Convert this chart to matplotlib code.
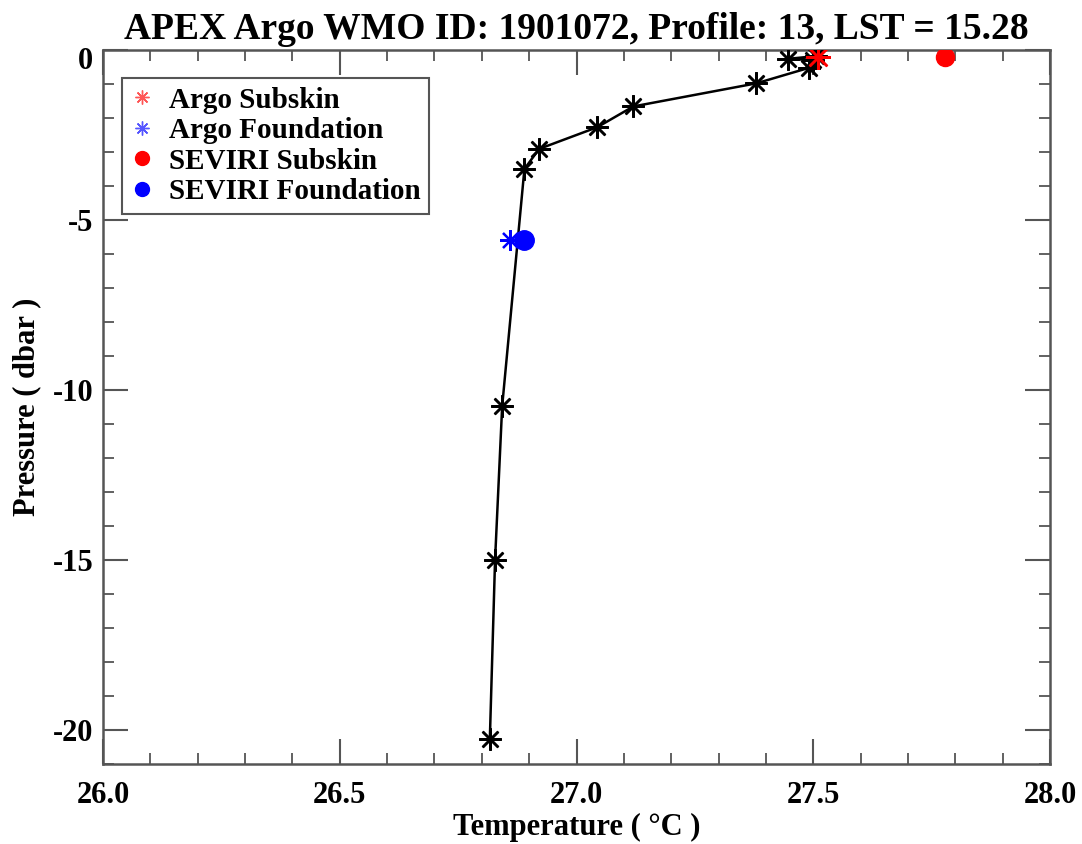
import matplotlib
matplotlib.use("Agg")
import matplotlib.pyplot as plt
import matplotlib.transforms as mtransforms
from matplotlib.ticker import MultipleLocator, FormatStrFormatter

plt.rcParams['font.family'] = ['Liberation Serif', 'DejaVu Serif']
plt.rcParams['font.weight'] = 'bold'
plt.rcParams['axes.unicode_minus'] = False

# Argo profile (temperature in degC, pressure in dbar, negative downward)
argo_temp = [27.505, 27.447, 27.500, 27.492, 27.380, 27.120, 27.044, 26.921, 26.890, 26.843, 26.828, 26.817]
argo_pres = [-0.18, -0.26, -0.30, -0.52, -0.98, -1.66, -2.27, -2.91, -3.50, -10.48, -15.00, -20.26]

argo_subskin_temp = [27.511]
argo_subskin_pres = [-0.20]
argo_found_temp = [26.860]
argo_found_pres = [-5.58]
seviri_subskin_temp = [27.778]
seviri_subskin_pres = [-0.20]
seviri_found_temp = [26.890]
seviri_found_pres = [-5.58]

title = "APEX Argo WMO ID: 1901072, Profile: 13, LST = 15.28"

fig = plt.figure(figsize=(10.82, 8.44), dpi=100)
ax = fig.add_axes([103/1082, 1-764/844, (1050-103)/1082, (764-50)/844])

ast = (8, 2, 0)
edge = '#555555'

ax.plot(argo_temp, argo_pres, color='black', lw=1.8, marker=ast, ms=16,
        mew=1.8, mec='black', zorder=3)
ax.plot(argo_subskin_temp, argo_subskin_pres, ls='none', marker=ast, ms=18,
        mew=1.8, color='red', zorder=4)
ax.plot(argo_found_temp, argo_found_pres, ls='none', marker=ast, ms=15,
        mew=1.6, color='blue', zorder=4)
ax.plot(seviri_subskin_temp, seviri_subskin_pres, ls='none', marker='o', ms=13,
        color='red', mec='red', zorder=4)
ax.plot(seviri_found_temp, seviri_found_pres, ls='none', marker='o', ms=14,
        color='blue', mec='blue', zorder=4)

# legend proxies
h1, = ax.plot([], [], ls='none', marker=ast, ms=10, mew=1.0, color='#ff5555', label='Argo Subskin')
h2, = ax.plot([], [], ls='none', marker=ast, ms=10, mew=1.0, color='#5555ff', label='Argo Foundation')
h3, = ax.plot([], [], ls='none', marker='o', ms=10, color='red', label='SEVIRI Subskin')
h4, = ax.plot([], [], ls='none', marker='o', ms=10, color='blue', label='SEVIRI Foundation')
leg = ax.legend(handles=[h1, h2, h3, h4], loc='upper left',
                bbox_to_anchor=(0.02, 0.961), fancybox=False, framealpha=1,
                edgecolor=edge, prop={'size': 21, 'weight': 'bold'},
                handlelength=0.8, handletextpad=0.5, labelspacing=0.12,
                borderpad=0.3, borderaxespad=0)
leg.get_frame().set_linewidth(1.5)

ax.set_xlim(26.0, 28.0)
ax.set_ylim(-21, 0)
ax.xaxis.set_major_locator(MultipleLocator(0.5))
ax.xaxis.set_minor_locator(MultipleLocator(0.1))
ax.yaxis.set_major_locator(MultipleLocator(5))
ax.yaxis.set_minor_locator(MultipleLocator(1))
ax.xaxis.set_major_formatter(FormatStrFormatter('%.1f'))
ax.yaxis.set_major_formatter(FormatStrFormatter('%d'))

ax.tick_params(which='both', direction='in', top=True, right=True, color=edge)
ax.tick_params(which='major', length=18, width=1.5)
ax.tick_params(which='minor', length=8, width=1.3)
ax.tick_params(axis='x', which='major', pad=12, labelsize=22)
ax.tick_params(axis='y', which='major', pad=7, labelsize=22)
for lab in ax.get_xticklabels() + ax.get_yticklabels():
    lab.set_fontweight('bold')
for s in ax.spines.values():
    s.set_color(edge)
    s.set_linewidth(1.8)

# shift the top "0" label slightly downward as in the reference
fig.canvas.draw()
for lab in ax.get_yticklabels():
    if lab.get_text() == '0':
        lab.set_transform(lab.get_transform() +
                          mtransforms.ScaledTranslation(0, -8/100, fig.dpi_scale_trans))

ax.set_xlabel("Temperature ( \u00b0C )", fontsize=22, fontweight='bold', labelpad=2)
ax.set_ylabel("Pressure ( dbar )", fontsize=22, fontweight='bold', labelpad=8)
ax.set_title(title, fontsize=27, fontweight='bold', pad=8)

fig.savefig("out.png", dpi=100)
